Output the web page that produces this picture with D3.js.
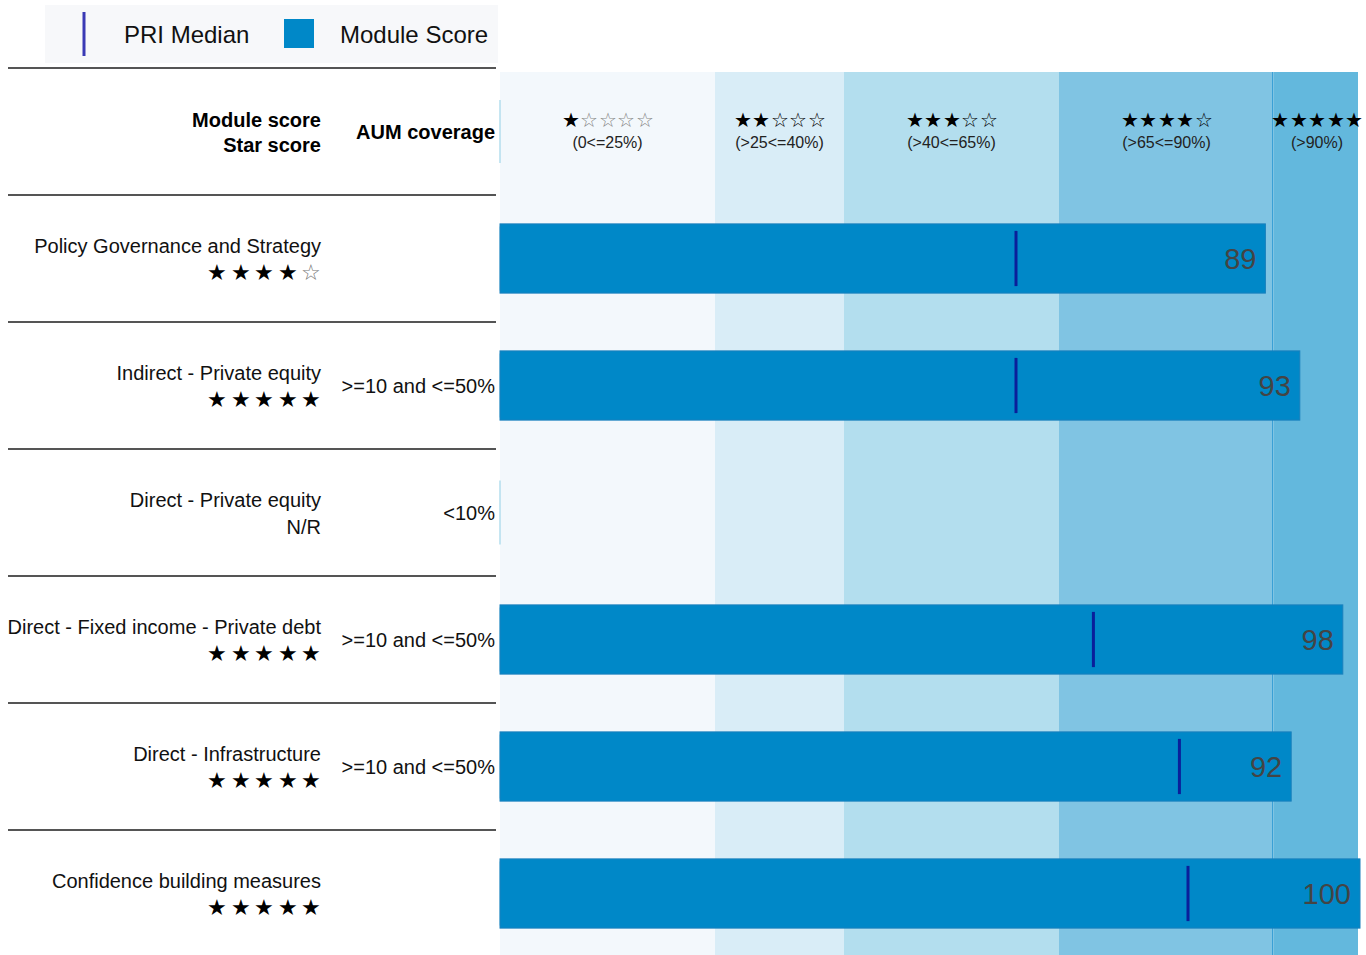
<!DOCTYPE html>
<html><head><meta charset="utf-8">
<script src="https://cdn.jsdelivr.net/npm/d3@7/dist/d3.min.js"></script>
<style>
html,body{margin:0;padding:0;background:#fff;}
svg{display:block;font-family:"Liberation Sans",Arial,sans-serif;}
</style></head><body>
<svg id="chart" width="1366" height="955"></svg>
<script>
// ---- data ----
const modules = ["Policy Governance and Strategy","Indirect - Private equity","Direct - Private equity","Direct - Fixed income - Private debt","Direct - Infrastructure","Confidence building measures"];
const starScores = [4, 5, null, 5, 5, 5];
const aumCoverage = ["", ">=10 and <=50%", "<10%", ">=10 and <=50%", ">=10 and <=50%", ""];
const moduleScores = [89, 93, null, 98, 92, 100];
const priMedians = [60, 60, null, 69, 79, 80];
const bandEdges = [0, 25, 40, 65, 90, 100];
const bandStars = [1, 2, 3, 4, 5];
const bandLabels = ["(0<=25%)", "(>25<=40%)", "(>40<=65%)", "(>65<=90%)", "(>90%)"];
const bandColors = ["#f3f8fc", "#d9edf7", "#b3deee", "#80c4e3", "#63b8dd"];

const svg = d3.select("#chart");
const x = d3.scaleLinear().domain([0, 100]).range([500, 1360]);
const y = d3.scaleBand().domain(modules).range([195, 957]).paddingInner(0);
const bw = y.bandwidth();
const barH = bw * 0.545;

// legend
const lg = svg.append("g");
lg.append("rect").attr("x", 45).attr("y", 5).attr("width", 453).attr("height", 58).attr("fill", "#f7f8fa");
lg.append("line").attr("x1", 84).attr("x2", 84).attr("y1", 12).attr("y2", 56).attr("stroke", "#3a3ab5").attr("stroke-width", 3);
lg.append("text").attr("x", 124).attr("y", 35).attr("dy", "0.35em").attr("font-size", 24).attr("fill", "#111").text("PRI Median");
lg.append("rect").attr("x", 284).attr("y", 19).attr("width", 30).attr("height", 29).attr("fill", "#0088c8");
lg.append("text").attr("x", 340).attr("y", 35).attr("dy", "0.35em").attr("font-size", 24).attr("fill", "#111").text("Module Score");

// bands
const bands = bandStars.map((s, i) => ({s, lo: bandEdges[i], hi: bandEdges[i + 1], label: bandLabels[i], color: bandColors[i]}));
svg.append("g").selectAll("rect").data(bands).join("rect")
  .attr("x", d => x(d.lo)).attr("width", d => x(d.hi) - x(d.lo) - (d.hi === 100 ? 2 : 0))
  .attr("y", 72).attr("height", 955 - 72).attr("fill", d => d.color);
svg.append("line").attr("x1", x(bandEdges[4]) - 1.5).attr("x2", x(bandEdges[4]) - 1.5)
  .attr("y1", 72).attr("y2", 955).attr("stroke", "#3aa0d6").attr("stroke-width", 1);

const hdr = svg.append("g").selectAll("g").data(bands).join("g")
  .attr("transform", d => `translate(${(x(d.lo) + x(d.hi)) / 2},0)`);
hdr.append("text").attr("y", 120).attr("dy", "0.35em").attr("text-anchor", "middle").attr("font-size", 20)
  .each(function(d) {
    const t = d3.select(this);
    for (let k = 0; k < 5; k++) {
      t.append("tspan").attr("dx", k ? 0.5 : 0)
        .attr("fill", k < d.s ? "#000" : (d.s === 1 ? "#888" : "#000"))
        .text(k < d.s ? "★" : "☆");
    }
  });
hdr.append("text").attr("y", 142).attr("dy", "0.35em").attr("text-anchor", "middle").attr("font-size", 16).attr("fill", "#222").text(d => d.label);

// header left
svg.append("text").attr("x", 321).attr("y", 120).attr("dy", "0.35em").attr("text-anchor", "end").attr("font-size", 20).attr("font-weight", "bold").text("Module score");
svg.append("text").attr("x", 321).attr("y", 145).attr("dy", "0.35em").attr("text-anchor", "end").attr("font-size", 20).attr("font-weight", "bold").text("Star score");
svg.append("text").attr("x", 495).attr("y", 132).attr("dy", "0.35em").attr("text-anchor", "end").attr("font-size", 20).attr("font-weight", "bold").text("AUM coverage");
svg.append("line").attr("x1", 500).attr("x2", 500).attr("y1", 100).attr("y2", 163).attr("stroke", "#b3deee").attr("stroke-width", 1.5);

// rules
const ruleYs = [68].concat(modules.map(m => y(m))).concat([y(modules[modules.length - 1]) + bw]).filter(v => v < 900);
svg.append("g").selectAll("line").data(ruleYs).join("line")
  .attr("x1", 8).attr("x2", 496).attr("y1", d => d).attr("y2", d => d)
  .attr("stroke", "#555").attr("stroke-width", 2);

const rows = modules.map((m, i) => ({m, star: starScores[i], aum: aumCoverage[i], score: moduleScores[i], med: priMedians[i]}));
const rg = svg.append("g").selectAll("g").data(rows).join("g")
  .attr("transform", d => `translate(0,${y(d.m) + bw / 2})`);

rg.append("text").attr("x", 321).attr("y", -12.5).attr("dy", "0.35em").attr("text-anchor", "end").attr("font-size", 20).attr("fill", "#111").text(d => d.m);
rg.append("text").attr("x", 321).attr("y", 14).attr("dy", "0.35em").attr("text-anchor", "end").attr("font-size", 22).attr("fill", "#111")
  .each(function(d) {
    const t = d3.select(this);
    if (d.star == null) { t.attr("font-size", 20).text("N/R"); return; }
    for (let k = 0; k < 5; k++) {
      t.append("tspan").attr("dx", k ? 3.5 : 0).attr("fill", k < d.star ? "#000" : "#777").text(k < d.star ? "★" : "☆");
    }
  });
rg.append("text").attr("x", 495).attr("y", 0).attr("dy", "0.35em").attr("text-anchor", "end").attr("font-size", 20).attr("fill", "#111").text(d => d.aum);
rg.append("line").attr("x1", 500).attr("x2", 500).attr("y1", -32).attr("y2", 32).attr("stroke", "#b3deee").attr("stroke-width", 1.5);

const withBar = rg.filter(d => d.score != null);
withBar.append("rect").attr("x", x(0)).attr("y", -barH / 2).attr("width", d => x(d.score) - x(0)).attr("height", barH)
  .attr("fill", "#0088c8").attr("stroke", "#1a80bd").attr("stroke-width", 1);
withBar.append("line").attr("x1", d => x(d.med)).attr("x2", d => x(d.med)).attr("y1", -barH / 2 + 7).attr("y2", barH / 2 - 7)
  .attr("stroke", "#0a1f9a").attr("stroke-width", 3);
withBar.append("text").attr("x", d => x(d.score) - 9).attr("y", 0).attr("dy", "0.35em").attr("text-anchor", "end")
  .attr("font-size", 29).attr("fill", "#444").text(d => d.score);
</script>
</body></html>
